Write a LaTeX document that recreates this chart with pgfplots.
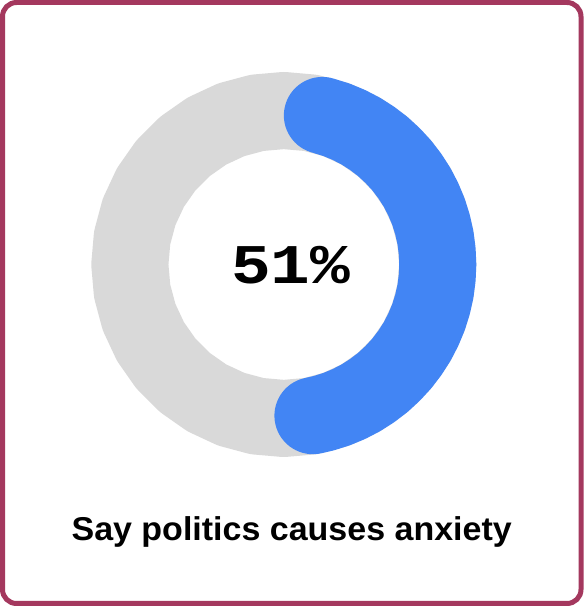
\documentclass[border=0pt]{standalone}
\usepackage{pgfplots}
\pgfplotsset{compat=1.18}
\usepackage{fontspec}
\setmainfont{Liberation Sans}
\newfontfamily\monofont{Liberation Mono}
\definecolor{ringgray}{RGB}{217,217,217}
\definecolor{gblue}{RGB}{66,133,244}
\definecolor{frame}{RGB}{164,56,94}
\begin{document}
\begin{tikzpicture}[x=1pt,y=1pt]
\useasboundingbox (0,0) rectangle (588,607);
\fill[white] (0,0) rectangle (588,607);
\draw[line width=5pt, frame, rounded corners=14pt] (2.5,3.5) rectangle (581,604.5);
\begin{axis}[at={(283.8pt,342.5pt)}, anchor=center,
  width=384pt, height=384pt, scale only axis,
  xmin=-1, xmax=1, ymin=-1, ymax=1, hide axis, clip=false]
% background ring (full circle)
\addplot[data cs=polar, ringgray, line width=77pt, line join=round, no markers] coordinates {
(0,0.802)(10,0.802)(20,0.802)(30,0.802)(40,0.802)(50,0.802)(60,0.802)(70,0.802)(80,0.802)(90,0.802)
(100,0.802)(110,0.802)(120,0.802)(130,0.802)(140,0.802)(150,0.802)(160,0.802)(170,0.802)(180,0.802)
(190,0.802)(200,0.802)(210,0.802)(220,0.802)(230,0.802)(240,0.802)(250,0.802)(260,0.802)(270,0.802)
(280,0.802)(290,0.802)(300,0.802)(310,0.802)(320,0.802)(330,0.802)(340,0.802)(350,0.802)(360,0.802)(370,0.802)};
% value arc: 51% (90 deg down to -93.6 deg, round caps inset)
\addplot[data cs=polar, gblue, line width=77pt, line cap=round, line join=round, no markers] coordinates {
(75.5,0.802)(70,0.802)(65,0.802)(60,0.802)(55,0.802)(50,0.802)(45,0.802)(40,0.802)(35,0.802)(30,0.802)
(25,0.802)(20,0.802)(15,0.802)(10,0.802)(5,0.802)(0,0.802)(-5,0.802)(-10,0.802)(-15,0.802)(-20,0.802)
(-25,0.802)(-30,0.802)(-35,0.802)(-40,0.802)(-45,0.802)(-50,0.802)(-55,0.802)(-60,0.802)(-65,0.802)
(-70,0.802)(-75,0.802)(-79.1,0.802)};
\end{axis}
\node[anchor=base, inner sep=0pt] at (290.5,323.7) {\scalebox{1.18}[1]{\monofont\bfseries\fontsize{56}{60}\selectfont 51\%}};
\node[anchor=base, inner sep=0pt] at (291.7,66) {\scalebox{1.03}[1]{\bfseries\fontsize{33}{38}\selectfont Say politics causes anxiety}};
\end{tikzpicture}
\end{document}
